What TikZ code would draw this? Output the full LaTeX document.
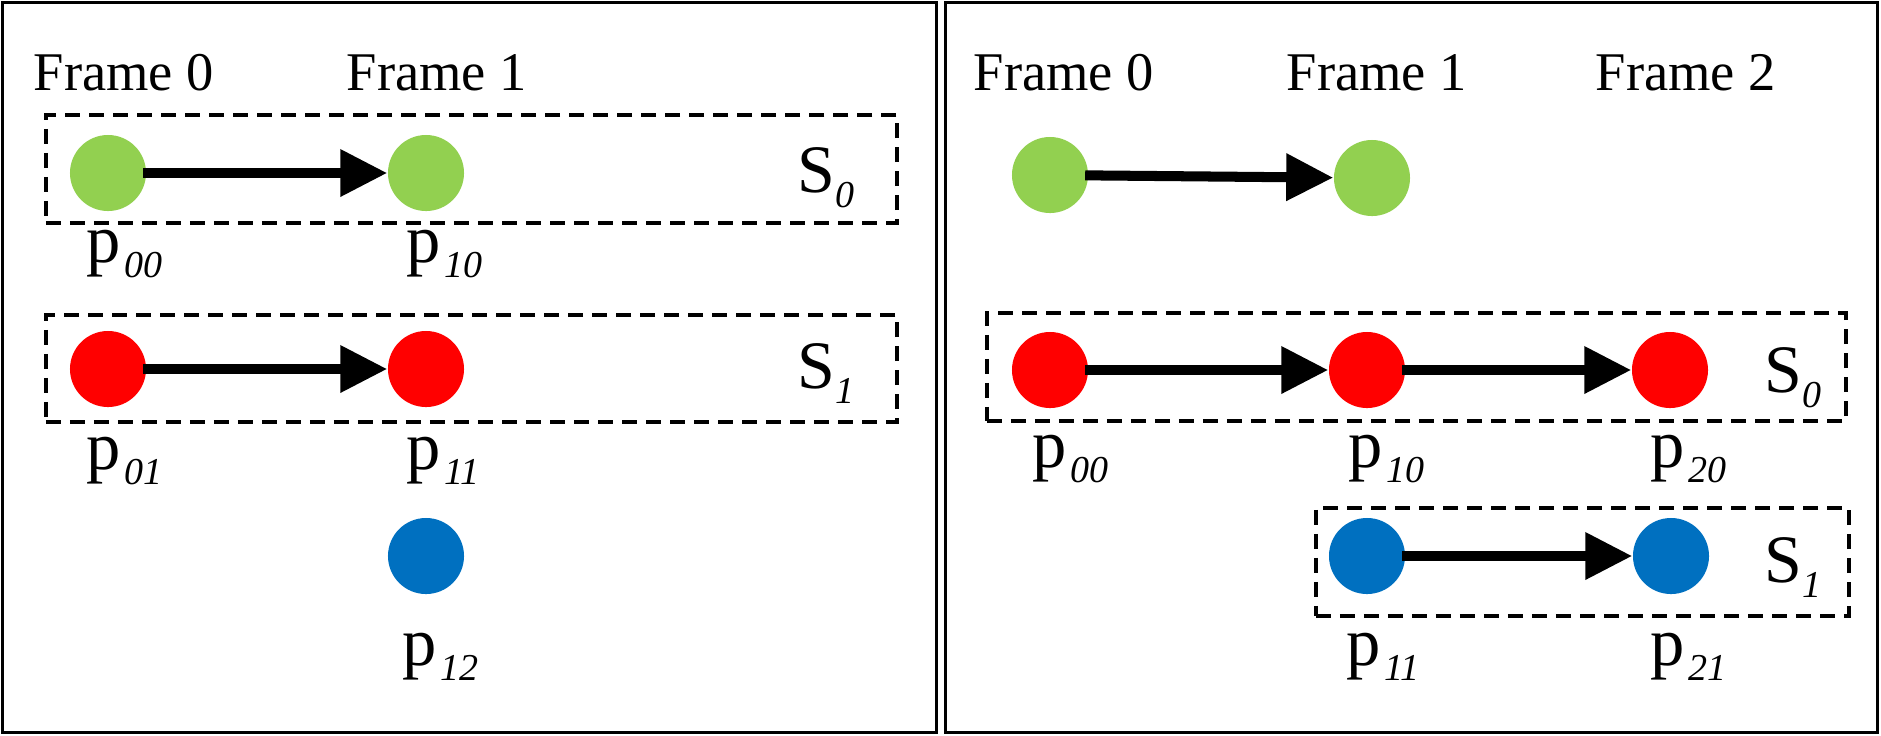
\documentclass[tikz,border=0pt]{standalone}
\usepackage{fontspec}
\setmainfont{Liberation Serif}
\usetikzlibrary{arrows.meta}
\definecolor{cgreen}{HTML}{92D050}
\definecolor{cred}{HTML}{FF0000}
\definecolor{cblue}{HTML}{0070C0}
\newcommand{\plab}[1]{{\fontsize{19.5}{24}\selectfont p}\kern1pt{\fontsize{10.8}{12}\selectfont\itshape\raisebox{-4.5pt}{#1}}}
\newcommand{\slab}[1]{{\fontsize{19.3}{23}\selectfont S}{\fontsize{10.8}{12}\selectfont\itshape\raisebox{-4.3pt}{#1}}}
\tikzset{
  dot/.style={circle, minimum size=0.76cm, inner sep=0pt, draw=none},
  gdot/.style={dot, fill=cgreen},
  rdot/.style={dot, fill=cred},
  bdot/.style={dot, fill=cblue},
  arr/.style={line width=2.85pt, -{Triangle[length=0.47cm,width=0.45cm]}, shorten <=-1pt},
  dbox/.style={draw, line width=1.1pt, dash pattern=on 0.15cm off 0.09cm, inner sep=0pt, minimum height=1.08cm},
  panel/.style={draw, line width=0.9pt, inner sep=0pt},
  frame/.style={anchor=base west, inner sep=0pt, font=\fontsize{15.5}{18}\selectfont},
  lab/.style={anchor=base west, inner sep=0pt},
}
\begin{document}
\begin{tikzpicture}[x=0.01cm, y=-0.01cm]
\useasboundingbox (0,0) rectangle (1881,735);
% panels
\node[panel, minimum width=9.33cm, minimum height=7.29cm] (pl) at (469.5,367.5) {};
\node[panel, minimum width=9.31cm, minimum height=7.29cm] (pr) at (1411.5,367.5) {};
% ---------- left panel ----------
\node[frame] (lf0) at (33,90) {Frame 0};
\node[frame] (lf1) at (346,90) {Frame 1};
\node[dbox, minimum width=8.51cm] (ls0) at (471.5,169) {};
\node[dbox, minimum width=8.51cm, minimum height=1.07cm] (ls1) at (471.5,368.5) {};
\node[gdot] (lg0) at (108,173) {};
\node[gdot] (lg1) at (426,173) {};
\node[rdot] (lr0) at (108,369) {};
\node[rdot] (lr1) at (426,369) {};
\node[bdot] (lb1) at (426,556) {};
\draw[arr] (lg0) -- (lg1);
\draw[arr] (lr0) -- (lr1);
\node[lab] (lS0) at (797,192) {\slab{0}};
\node[lab] (lS1) at (797,388) {\slab{1}};
\node[lab] (lp00) at (86,262) {\plab{00}};
\node[lab] (lp10) at (406,262) {\plab{10}};
\node[lab] (lp01) at (86,469) {\plab{01}};
\node[lab] (lp11) at (406,469) {\plab{11}};
\node[lab] (lp12) at (402,665) {\plab{12}};
% ---------- right panel ----------
\node[frame] (rf0) at (973,90) {Frame 0};
\node[frame] (rf1) at (1286,90) {Frame 1};
\node[frame] (rf2) at (1595,90) {Frame 2};
\node[dbox, minimum width=8.59cm] (rs0) at (1416.5,367) {};
\node[dbox, minimum width=5.33cm] (rs1) at (1582.5,562) {};
\node[gdot] (rg0) at (1050,175) {};
\node[gdot] (rg1) at (1372,178) {};
\node[rdot] (rr0) at (1050,370) {};
\node[rdot] (rr1) at (1367,370) {};
\node[rdot] (rr2) at (1670,370) {};
\node[bdot] (rb1) at (1367,556) {};
\node[bdot] (rb2) at (1671,556) {};
\draw[arr] (rg0) -- (rg1);
\draw[arr] (rr0) -- (rr1);
\draw[arr] (rr1) -- (rr2);
\draw[arr] (rb1) -- (rb2);
\node[lab] (rS0) at (1764,392) {\slab{0}};
\node[lab] (rS1) at (1764,582) {\slab{1}};
\node[lab] (rp00) at (1032,467) {\plab{00}};
\node[lab] (rp10) at (1348,467) {\plab{10}};
\node[lab] (rp20) at (1650,467) {\plab{20}};
\node[lab] (rp11) at (1346,665) {\plab{11}};
\node[lab] (rp21) at (1650,665) {\plab{21}};
\end{tikzpicture}
\end{document}
